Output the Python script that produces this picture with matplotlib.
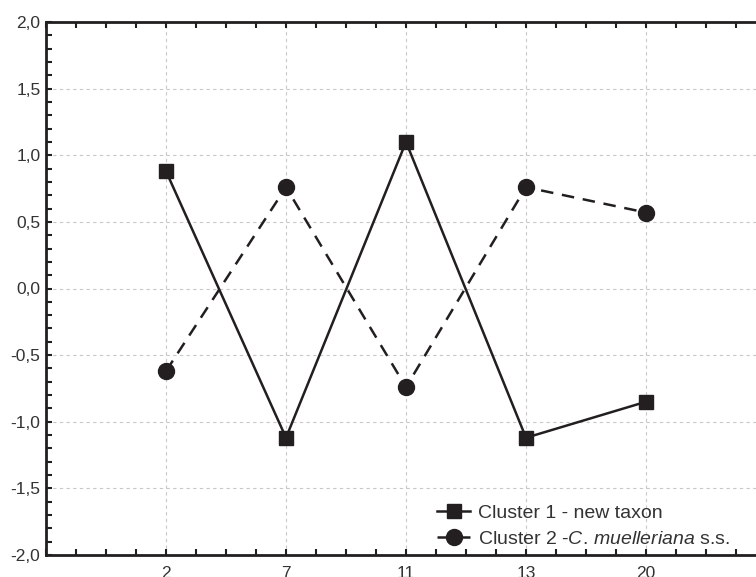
import matplotlib
matplotlib.use("Agg")
import matplotlib.pyplot as plt
from matplotlib.ticker import MultipleLocator, FuncFormatter

plt.rcParams['font.family'] = ['Liberation Sans', 'DejaVu Sans']
plt.rcParams['mathtext.fontset'] = 'custom'
plt.rcParams['mathtext.rm'] = 'Liberation Sans'
plt.rcParams['mathtext.it'] = 'Liberation Sans:italic'

categories = ['2', '7', '11', '13', '20']
cluster1 = [0.88, -1.12, 1.10, -1.12, -0.85]
cluster2 = [-0.62, 0.76, -0.74, 0.76, 0.57]

ink = '#231f20'
pos = list(range(1, len(categories) + 1))

fig = plt.figure(figsize=(7.56, 5.77), dpi=100)
ax = fig.add_axes([46/756, 1 - 555/577, 720/756, 533/577])

ax.plot(pos, cluster1, color=ink, lw=1.8, marker='s', ms=10.5,
        label='Cluster 1 - new taxon')
ax.plot(pos, cluster2, color=ink, lw=1.8, ls=(0, (5, 3.5)), marker='o', ms=11.5,
        label='Cluster 2 -$\\it{C.\\,muelleriana}$ s.s.')

ax.set_xlim(0, 6)
ax.set_ylim(-2, 2)
ax.set_xticks(pos)
ax.set_xticklabels(categories)
ax.xaxis.set_minor_locator(MultipleLocator(0.25))
ax.yaxis.set_major_locator(MultipleLocator(0.5))
ax.yaxis.set_minor_locator(MultipleLocator(0.1))
ax.yaxis.set_major_formatter(FuncFormatter(lambda v, p: f'{v:.1f}'.replace('.', ',')))

ax.tick_params(which='both', direction='in', top=True, right=False,
               color=ink, labelsize=12.5, labelcolor='#333333', width=1.5)
ax.tick_params(which='major', length=4)
ax.tick_params(which='minor', length=4)
ax.tick_params(axis='x', pad=8)
ax.tick_params(axis='y', pad=4)

for s in ['left', 'bottom', 'top']:
    ax.spines[s].set_linewidth(2)
    ax.spines[s].set_color(ink)
ax.spines['right'].set_visible(False)

ax.grid(True, which='major', color='#c8c8c8', ls=(0, (3, 3)), lw=0.8)
ax.set_axisbelow(True)

leg = ax.legend(loc='lower left', bbox_to_anchor=(0.527, -0.008), frameon=False,
                fontsize=14, handlelength=1.7, handletextpad=0.4,
                labelspacing=0.4, borderaxespad=0.2)
for t in leg.get_texts():
    t.set_color('#333333')

fig.savefig('out.png', dpi=100)
